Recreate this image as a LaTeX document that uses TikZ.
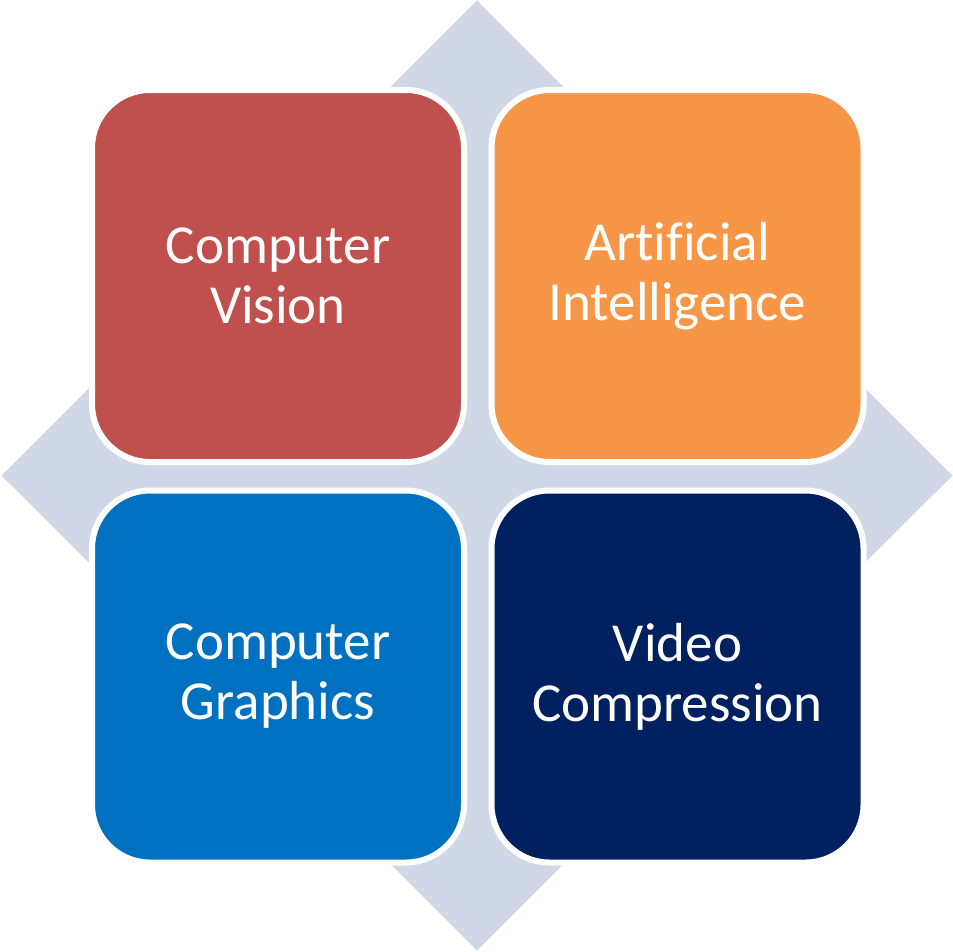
\documentclass[tikz,border=0pt]{standalone}
\usepackage{fontspec}
\setmainfont[Ligatures=CommonOff]{Carlito}
\definecolor{diam}{HTML}{D0D8E8}
\definecolor{cvred}{HTML}{C0504D}
\definecolor{aiorange}{HTML}{F79646}
\definecolor{cgblue}{HTML}{0070C0}
\definecolor{vcnavy}{HTML}{002060}
\tikzset{
  tile/.style={draw=white, line width=6pt, rounded corners=58pt,
    minimum width=372pt, minimum height=372pt, inner sep=0pt,
    text=white, align=center,
    font=\fontsize{55}{60}\selectfont},
}
\begin{document}
\begin{tikzpicture}[x=1pt,y=-1pt]
\useasboundingbox (0,0) rectangle (953,951);
\fill[diam] (477,0.5) -- (952.5,475.5) -- (477,950.5) -- (1.5,475.5) -- cycle;
\node[tile, fill=cvred] (cv) at (278,276) {Computer\\Vision};
\node[tile, fill=aiorange] (ai) at (677.5,276) {Artificial\\Intelligence};
\node[tile, fill=cgblue] (cg) at (278,676.5) {Computer\\Graphics};
\node[tile, fill=vcnavy] (vc) at (677.5,676.5) {Video\\Compression};
\end{tikzpicture}
\end{document}
